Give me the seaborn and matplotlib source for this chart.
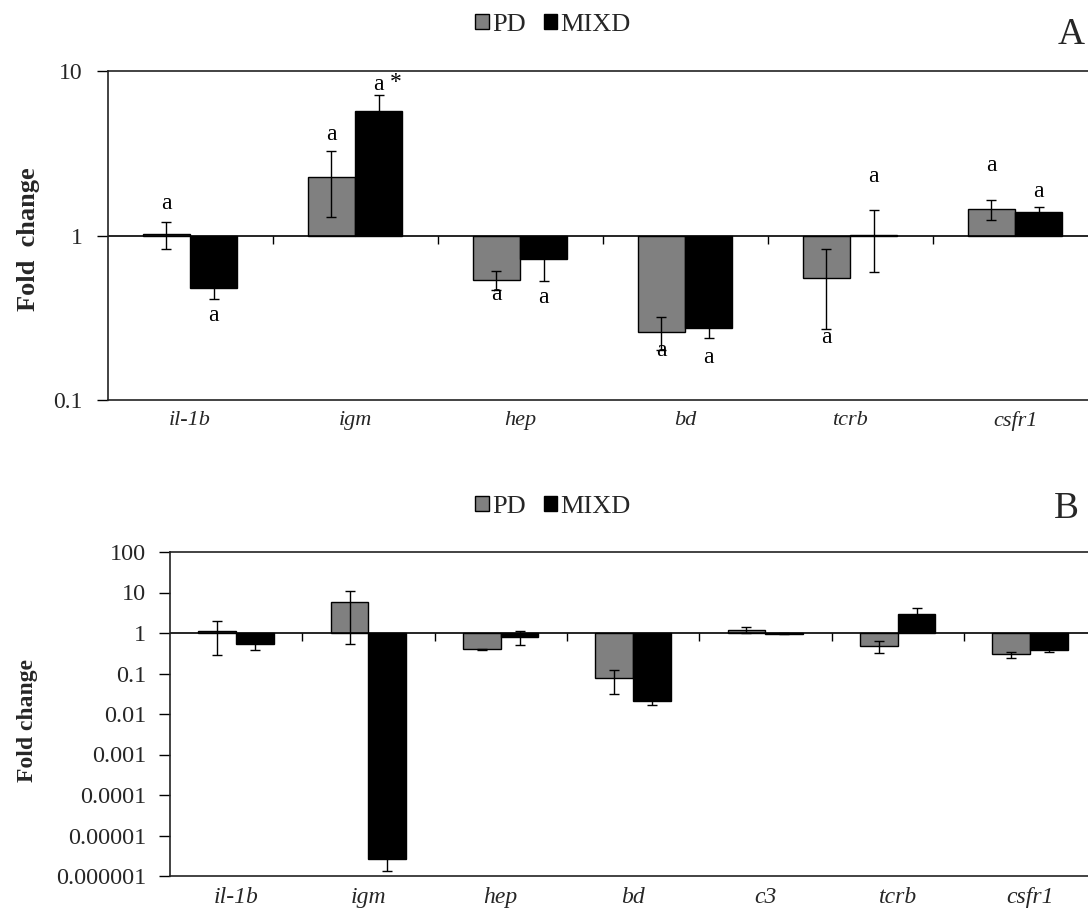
import numpy as np
import pandas as pd
import matplotlib
matplotlib.use("Agg")
import matplotlib.pyplot as plt
from matplotlib.patches import Patch
from matplotlib.markers import TICKDOWN
import seaborn as sns

# ---- data -------------------------------------------------------------
groups = ["PD", "MIXD"]

genes_a = ["il-1b", "igm", "hep", "bd", "tcrb", "csfr1"]
pd_a = [1.02, 2.27, 0.54, 0.26, 0.55, 1.44]
pd_a_err = [0.19, 0.98, 0.072, 0.058, 0.28, 0.20]
mixd_a = [0.48, 5.74, 0.72, 0.274, 1.01, 1.39]
mixd_a_err = [0.07, 1.44, 0.19, 0.037, 0.41, 0.095]

genes_b = ["il-1b", "igm", "hep", "bd", "c3", "tcrb", "csfr1"]
pd_b = [1.14, 5.83, 0.394, 0.0757, 1.21, 0.486, 0.296]
pd_b_err = [0.85, 5.3, 0.01, 0.045, 0.22, 0.16, 0.05]
mixd_b = [0.545, 2.63e-6, 0.797, 0.0214, 0.96, 2.88, 0.387]
mixd_b_err = [0.155, 1.33e-6, 0.30, 0.0045, 0.03, 1.17, 0.045]

yticks_a = [0.1, 1, 10]
yticklabels_a = ["0.1", "1", "10"]
yticks_b = [1e-6, 1e-5, 1e-4, 1e-3, 1e-2, 1e-1, 1, 10, 100]
yticklabels_b = ["0.000001", "0.00001", "0.0001", "0.001", "0.01",
                 "0.1", "1", "10", "100"]

# significance letters for panel A: (gene, group, text, pixel offset from error-bar end)
letters_a = [
    ("il-1b", "MIXD", "a", -16), ("il-1b", "PD", "a", 18),
    ("igm", "PD", "a", 17), ("igm", "MIXD", "a", 10),
    ("hep", "PD", "a", -5), ("hep", "MIXD", "a", -17),
    ("bd", "PD", "a", -1), ("bd", "MIXD", "a", -19),
    ("tcrb", "PD", "a", -8), ("tcrb", "MIXD", "a", 34),
    ("csfr1", "PD", "a", 35), ("csfr1", "MIXD", "a", 16),
]
star_a = ("igm", "MIXD", "*")

colors = {"PD": "#808080", "MIXD": "#000000"}

# ---- style ------------------------------------------------------------
sns.set_theme(style="white")
plt.rcParams["font.family"] = ["Liberation Serif", "DejaVu Serif"]

W, H = 1088, 910
fig = plt.figure(figsize=(W / 100, H / 100), dpi=100)


def make_frame(genes, pd_v, pd_e, mx_v, mx_e):
    return pd.DataFrame({
        "gene": genes * 2,
        "group": ["PD"] * len(genes) + ["MIXD"] * len(genes),
        "fold": pd_v + mx_v,
        "err": pd_e + mx_e,
    })


def draw_panel(ax, df, genes, cat_px, yticks, yticklabels, tick_fs, xlab_fs, ypad):
    sns.barplot(data=df, x="gene", y="fold", hue="group", order=genes,
                hue_order=groups, palette=colors, width=0.57,
                edgecolor="black", linewidth=1.0, errorbar=None,
                legend=False, ax=ax)
    # bars grow from the fold-change baseline of 1
    bars = list(ax.patches)
    for p in bars:
        h = p.get_height()
        p.set_y(1.0)
        p.set_height(h - 1.0)
    xs = [p.get_x() + p.get_width() / 2 for p in bars]
    ax.errorbar(xs, df["fold"], yerr=df["err"], fmt="none", ecolor="black",
                elinewidth=1.0, capsize=3.6, capthick=1.0, zorder=4)
    ax.set_yscale("log")
    ax.set_ylim(yticks[0], yticks[-1])
    ax.set_yticks(yticks)
    ax.set_yticklabels(yticklabels)
    ax.yaxis.set_minor_locator(matplotlib.ticker.NullLocator())
    n = len(genes)
    width_px = ax.get_position().width * W
    ax.set_xlim(-0.5, -0.5 + width_px / cat_px)
    ax.set_xticks(range(n))
    ax.set_xticklabels(genes, fontstyle="italic", fontsize=xlab_fs)
    ax.tick_params(axis="x", length=0, pad=8)
    ax.tick_params(axis="y", direction="out", length=8, width=1.0,
                   color="black", labelsize=tick_fs, pad=ypad, left=True)
    ax.set_xlabel("")
    ax.set_ylabel("")
    for side in ["left", "top", "bottom"]:
        ax.spines[side].set_visible(True)
        ax.spines[side].set_color("#222222")
        ax.spines[side].set_linewidth(1.2)
    ax.spines["right"].set_visible(False)
    # category axis crossing at 1
    ax.axhline(1.0, color="black", lw=1.2, zorder=1)
    bounds = np.arange(0.5, n - 0.4, 1.0)
    ax.plot(bounds, np.ones_like(bounds), ls="none", marker=TICKDOWN,
            ms=6, mew=1.0, color="black", zorder=1)
    ax.grid(False)
    ax.set_facecolor("white")
    return dict(zip(zip(df["gene"], df["group"]), zip(xs, df["fold"], df["err"])))


# ---- panel A ------------------------------------------------------------
axA = fig.add_axes([107.5 / W, 1 - 400 / H, (W - 107.5) / W, 329 / H])
dfA = make_frame(genes_a, pd_a, pd_a_err, mixd_a, mixd_a_err)
infoA = draw_panel(axA, dfA, genes_a, 165.0, yticks_a, yticklabels_a, 17, 16, 10)

for gene, grp, txt, off in letters_a:
    x, v, e = infoA[(gene, grp)]
    y = v + e if off > 0 else v - e
    axA.annotate(txt, xy=(x, y), xytext=(0, off), textcoords="offset pixels",
                 ha="center", va="center", fontsize=17, color="black", zorder=5)
x, v, e = infoA[(star_a[0], star_a[1])]
axA.annotate(star_a[2], xy=(x, v + e), xytext=(17, 12), textcoords="offset pixels",
             ha="center", va="center", fontsize=17, color="black", zorder=5)

# ---- panel B ------------------------------------------------------------
axB = fig.add_axes([170 / W, 1 - 876 / H, (W - 170) / W, 324 / H])
dfB = make_frame(genes_b, pd_b, pd_b_err, mixd_b, mixd_b_err)
draw_panel(axB, dfB, genes_b, 132.3, yticks_b, yticklabels_b, 17.5, 17, 9)

# ---- axis titles, legends, panel letters --------------------------------
fig.text(28 / W, 1 - 239 / H, "Fold  change", rotation=90, ha="center",
         va="center", fontsize=19, fontweight="bold")
fig.text(27 / W, 1 - 720 / H, "Fold change", rotation=90, ha="center",
         va="center", fontsize=17, fontweight="bold")

handles = [Patch(facecolor=colors[g], edgecolor="black", linewidth=1.0, label=g)
           for g in groups]
for ycen in (25, 507):
    fig.legend(handles=handles, loc="center", bbox_to_anchor=(553 / W, 1 - ycen / H),
               ncol=2, frameon=False, fontsize=19, handlelength=0.5,
               handleheight=0.5, handletextpad=0.12, columnspacing=0.7,
               borderaxespad=0, borderpad=0)

fig.text(1071 / W, 1 - 35 / H, "A", ha="center", va="center", fontsize=27)
fig.text(1066 / W, 1 - 509 / H, "B", ha="center", va="center", fontsize=27)

fig.savefig("out.png", dpi=100, facecolor="white")
